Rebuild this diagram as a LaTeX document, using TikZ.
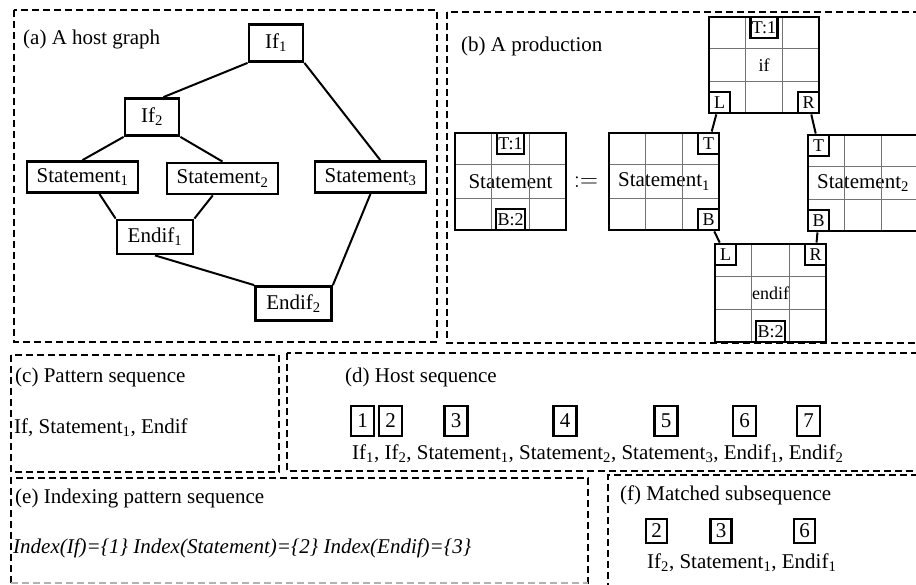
\documentclass[tikz,border=0pt]{standalone}
\usepackage{fontspec}
\setmainfont{Liberation Serif}
\usetikzlibrary{calc}
\newcommand{\ix}[1]{\textsubscript{#1}}

\begin{document}
\begin{tikzpicture}[
  x=1pt, y=-1pt,
  font=\fontsize{21}{24}\selectfont,
  panel/.style={draw, dash pattern=on 7pt off 4pt, line width=2.3pt},
  hostnode/.style={draw, line width=2.8pt, inner xsep=9pt, inner ysep=2pt, minimum height=31pt},
  link/.style={draw, line width=2pt},
  gbox/.style={draw, line width=2.8pt, minimum width=111pt, minimum height=97pt, inner sep=0pt},
  gridline/.style={draw, black!55, line width=0.9pt, shorten <=2.8pt, shorten >=2.8pt},
  port/.style={draw, line width=2.8pt, fill=white, minimum height=21pt, minimum width=21pt,
    inner sep=1.5pt, font=\fontsize{18}{20}\selectfont},
  numbox/.style={draw, line width=2.8pt, minimum width=23pt, minimum height=30pt, inner sep=1pt},
  txt/.style={anchor=base west, inner sep=0pt}
]
\useasboundingbox (0,0) rectangle (916,585);
\clip (0,0) rectangle (916,585);

% Panels
\draw[panel] (14,10) rectangle (437,342);
\draw[panel] (447,12) rectangle (930,343);
\draw[panel] (11,355) rectangle (279,472);
\draw[panel] (287,353) rectangle (930,471);
\draw[panel] (11,583) -- (11,478) -- (588,478) -- (588,590);
\draw[panel, black!30] (11,583) -- (588,583);
\draw[panel] (608,590) -- (608,475) -- (930,475);

% (a) A host graph
\node[txt] (capA) at (23,45) {(a) A host graph};
\node[hostnode, minimum width=54pt, minimum height=37pt] (If1) at (276,43) {If\ix{1}};
\node[hostnode, minimum width=54pt, minimum height=37pt] (If2) at (152,117) {If\ix{2}};
\node[hostnode, minimum width=111pt] (St1) at (82.5,177) {Statement\ix{1}};
\node[hostnode, minimum width=111pt] (St2) at (222.5,178.5) {Statement\ix{2}};
\node[hostnode, minimum width=111pt] (St3) at (370.5,177) {Statement\ix{3}};
\node[hostnode, minimum width=76pt, minimum height=34pt] (End1) at (155,237) {Endif\ix{1}};
\node[hostnode, minimum width=76pt, minimum height=34pt] (End2) at (293.5,303.5) {Endif\ix{2}};
\draw[link] (If1.south west) -- (If2.60);
\draw[link] (If1.south east) -- (St3.60);
\draw[link] (If2.south west) -- (St1.north);
\draw[link] (If2.south east) -- (St2.north);
\draw[link] (St1.-45) -- (End1.north west);
\draw[link] (St2.-120) -- (End1.north east);
\draw[link] (End1.south) -- (End2.north west);
\draw[link] (St3.south) -- (End2.north east);

% (b) A production
\node[txt] (capB) at (461,52) {(b) A production};
\node[gbox] (lhs) at (510.5,181.5) {Statement};
\node[font=\fontsize{24}{26}\selectfont] (assign) at (586,182) {$:=$};
\node[gbox, minimum width=110pt] (sa) at (664,181.5) {Statement\ix{1}};
\node[gbox, minimum width=110pt, minimum height=96pt, font=\fontsize{18}{20}\selectfont] (ifb) at (764,65) {if};
\node[gbox, minimum width=110pt, minimum height=96pt] (sb) at (863,183) {Statement\ix{2}};
\node[gbox, minimum height=98pt, font=\fontsize{18}{20}\selectfont] (endb) at (770.5,293) {endif};
\foreach \b in {lhs,sa,ifb,sb,endb}{
  \draw[gridline] ($(\b.north west)!1/3!(\b.north east)$) -- ($(\b.south west)!1/3!(\b.south east)$);
  \draw[gridline] ($(\b.north west)!2/3!(\b.north east)$) -- ($(\b.south west)!2/3!(\b.south east)$);
  \draw[gridline] ($(\b.north west)!1/3!(\b.south west)$) -- ($(\b.north east)!1/3!(\b.south east)$);
  \draw[gridline] ($(\b.north west)!2/3!(\b.south west)$) -- ($(\b.north east)!2/3!(\b.south east)$);
}
\node[port, anchor=north] (lhsT) at (lhs.north) {T:1};
\node[port, anchor=south] (lhsB) at (lhs.south) {B:2};
\node[port, anchor=north east] (saT) at (sa.north east) {T};
\node[port, anchor=south east] (saB) at (sa.south east) {B};
\node[port, anchor=north] (ifT) at (ifb.north) {T:1};
\node[port, anchor=south west] (ifL) at (ifb.south west) {L};
\node[port, anchor=south east] (ifR) at (ifb.south east) {R};
\node[port, anchor=north west] (sbT) at (sb.north west) {T};
\node[port, anchor=south west] (sbB) at (sb.south west) {B};
\node[port, anchor=north west] (endL) at (endb.north west) {L};
\node[port, anchor=north east] (endR) at (endb.north east) {R};
\node[port, anchor=south] (endB) at (endb.south) {B:2};
\draw[link] (ifL) -- (saT);
\draw[link] (ifR) -- (sbT);
\draw[link] (saB) -- (endL);
\draw[link] (sbB) -- (endR);

% (c) Pattern sequence
\node[txt] (capC) at (15,383) {(c) Pattern sequence};
\node[txt] (patseq) at (14,433) {If, Statement\ix{1}, Endif};

% (d) Host sequence
\node[txt] (capD) at (345,383) {(d) Host sequence};
\node[numbox] (n1) at (362.5,421) {1};
\node[numbox] (n2) at (390.5,421) {2};
\node[numbox] (n3) at (456,421) {3};
\node[numbox] (n4) at (565,421) {4};
\node[numbox] (n5) at (666,421) {5};
\node[numbox] (n6) at (744.5,421) {6};
\node[numbox] (n7) at (808.5,421) {7};
\node[txt] (hostseq) at (352,459) {If\ix{1}, If\ix{2}, Statement\ix{1}, Statement\ix{2}, Statement\ix{3}, Endif\ix{1}, Endif\ix{2}};

% (e) Indexing pattern sequence
\node[txt] (capE) at (15,503) {(e) Indexing pattern sequence};
\node[txt] (index) at (13,553) {\textit{Index(If)=\{1\} Index(Statement)=\{2\} Index(Endif)=\{3\}}};

% (f) Matched subsequence
\node[txt] (capF) at (620,500) {(f) Matched subsequence};
\node[numbox, minimum width=21pt, minimum height=24pt] (m2) at (656.5,531) {2};
\node[numbox, minimum width=21pt, minimum height=24pt] (m3) at (721,531) {3};
\node[numbox, minimum width=21pt, minimum height=24pt] (m6) at (804.5,531) {6};
\node[txt] (matchseq) at (647,568) {If\ix{2}, Statement\ix{1}, Endif\ix{1}};
\end{tikzpicture}
\end{document}
